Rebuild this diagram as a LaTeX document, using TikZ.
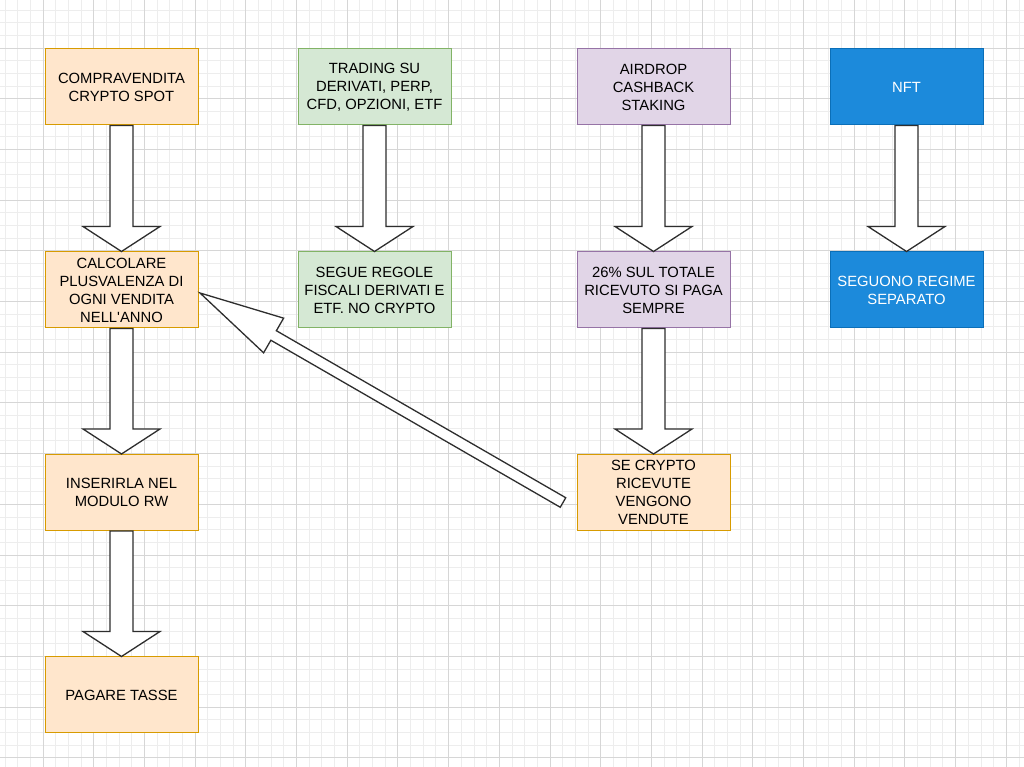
\documentclass[tikz,border=0pt]{standalone}
\usepackage{fontspec}
\setmainfont{Liberation Sans}[Ligatures=TeXOff]
\usetikzlibrary{calc}
\definecolor{orfill}{HTML}{FFE6CC}
\definecolor{ordraw}{HTML}{D79B00}
\definecolor{grfill}{HTML}{D5E8D4}
\definecolor{grdraw}{HTML}{82B366}
\definecolor{pufill}{HTML}{E1D5E7}
\definecolor{pudraw}{HTML}{9673A6}
\definecolor{blfill}{HTML}{1C8ADB}
\definecolor{bldraw}{HTML}{0B6FB8}
\definecolor{gridminor}{HTML}{EDEDED}
\definecolor{gridmajor}{HTML}{D6D6D6}
\definecolor{arrowdraw}{HTML}{2E2E2E}
\tikzset{
  box/.style={draw, line width=1pt, minimum width=153pt, minimum height=76pt,
    inner sep=0pt, align=center, font=\fontsize{14.8}{18}\selectfont},
  orbox/.style={box, fill=orfill, draw=ordraw},
  grbox/.style={box, fill=grfill, draw=grdraw},
  pubox/.style={box, fill=pufill, draw=pudraw},
  blbox/.style={box, fill=blfill, draw=bldraw, text=white},
  blockarrow/.style={draw=arrowdraw, fill=white, line width=1.3pt, line join=miter},
  gminor/.style={draw=gridminor, line width=0.9pt},
  gmajor/.style={draw=gridmajor, line width=0.9pt}
}
% #1 tail, #2 tip, #3 shaft half width, #4 head half width, #5 head length
\newcommand{\fatarrow}[5]{%
  \coordinate (fah) at ($(#2)!#5!(#1)$);
  \draw[blockarrow] ($(#1)!#3!90:(#2)$) -- ($(fah)!#3!90:(#2)$) -- ($(fah)!#4!90:(#2)$)
    -- (#2) -- ($(fah)!#4!-90:(#2)$) -- ($(fah)!#3!-90:(#2)$) -- ($(#1)!#3!-90:(#2)$) -- cycle;}
\begin{document}
\begin{tikzpicture}[x=1pt,y=1pt]
\useasboundingbox (0,0) rectangle (1024,767);
\fill[white] (0,0) rectangle (1024,767);
% grid
\foreach \i in {-3,...,77} {\draw[gminor] ({43+12.675*\i},0) -- ({43+12.675*\i},767);}
\foreach \j in {-3,...,57} {\draw[gminor] (0,{719-12.675*\j}) -- (1024,{719-12.675*\j});}
\foreach \i in {-1,...,19} {\draw[gmajor] ({43+50.7*\i},0) -- ({43+50.7*\i},767);}
\foreach \j in {-1,...,14} {\draw[gmajor] (0,{719-50.7*\j}) -- (1024,{719-50.7*\j});}
% nodes
\node[orbox] (spot) at (121.5,680) {COMPRAVENDITA\\CRYPTO SPOT};
\node[grbox] (trad) at (374.5,680) {TRADING SU\\DERIVATI, PERP,\\CFD, OPZIONI, ETF};
\node[pubox] (air) at (653.5,680) {AIRDROP\\CASHBACK\\STAKING};
\node[blbox] (nft) at (906.5,680) {NFT};
\node[orbox] (calc) at (121.5,477) {CALCOLARE\\PLUSVALENZA DI\\OGNI VENDITA\\NELL\char39ANNO};
\node[grbox] (regole) at (374.5,477) {SEGUE REGOLE\\FISCALI DERIVATI E\\ETF. NO CRYPTO};
\node[pubox] (tot) at (653.5,477) {26\% SUL TOTALE\\RICEVUTO SI PAGA\\SEMPRE};
\node[blbox] (regime) at (906.5,477) {SEGUONO REGIME\\SEPARATO};
\node[orbox] (rw) at (121.5,274.5) {INSERIRLA NEL\\MODULO RW};
\node[orbox] (vend) at (653.5,274.5) {SE CRYPTO\\RICEVUTE\\VENGONO\\VENDUTE};
\node[orbox] (tasse) at (121.5,72) {PAGARE TASSE};
% arrows
\fatarrow{spot.south}{calc.north}{11.5pt}{38.5pt}{25pt}
\fatarrow{calc.south}{rw.north}{11.5pt}{38.5pt}{25pt}
\fatarrow{rw.south}{tasse.north}{11.5pt}{38.5pt}{25pt}
\fatarrow{trad.south}{regole.north}{11.5pt}{38.5pt}{25pt}
\fatarrow{air.south}{tot.north}{11.5pt}{38.5pt}{25pt}
\fatarrow{tot.south}{vend.north}{11.5pt}{38.5pt}{25pt}
\fatarrow{nft.south}{regime.north}{11.5pt}{38.5pt}{25pt}
\coordinate (diagtail) at (563,264.5);
\coordinate (diagtip) at (200,474);
\fatarrow{diagtail}{diagtip}{5.5pt}{20pt}{85pt}
\end{tikzpicture}
\end{document}
